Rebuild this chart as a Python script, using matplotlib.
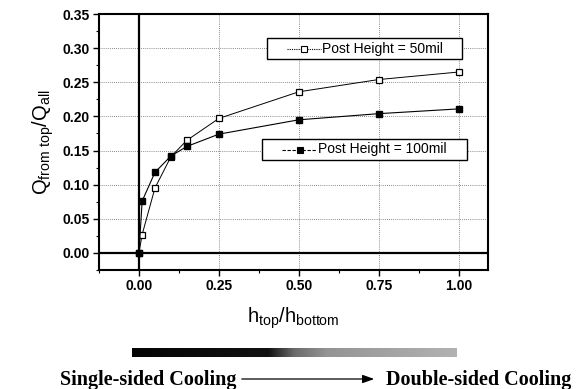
import numpy as np
import matplotlib
matplotlib.use("Agg")
import matplotlib.pyplot as plt
from matplotlib.lines import Line2D
from matplotlib.patches import Rectangle, FancyArrowPatch
from matplotlib.colors import LinearSegmentedColormap

plt.rcParams['font.family'] = ['Liberation Sans', 'DejaVu Sans']
plt.rcParams['mathtext.default'] = 'regular'

# Data
h_ratio = [0.0, 0.01, 0.05, 0.10, 0.15, 0.25, 0.50, 0.75, 1.00]
q_50mil = [0.0, 0.027, 0.095, 0.141, 0.165, 0.197, 0.236, 0.254, 0.265]
q_100mil = [0.0, 0.076, 0.118, 0.142, 0.156, 0.174, 0.195, 0.204, 0.211]
label_50 = "Post Height = 50mil"
label_100 = "Post Height = 100mil"
xticks = [0.00, 0.25, 0.50, 0.75, 1.00]
yticks = [0.00, 0.05, 0.10, 0.15, 0.20, 0.25, 0.30, 0.35]

W, H = 580, 389
AX_L, AX_R, AX_T, AX_B = 99, 488, 14, 270
fig = plt.figure(figsize=(W / 100, H / 100), dpi=100)
ax = fig.add_axes([AX_L / W, 1 - AX_B / H, (AX_R - AX_L) / W, (AX_B - AX_T) / H])


def fx(px):
    return (px - AX_L) / (AX_R - AX_L)


def fy(py):
    return (AX_B - py) / (AX_B - AX_T)


ax.set_xlim(-0.101, 1.092)
ax.set_ylim(-0.025, 0.35)

ax.axvline(0, color='black', lw=1.6, zorder=2)
ax.axhline(0, color='black', lw=1.6, zorder=2)

ax.plot(h_ratio, q_50mil, color='black', lw=0.7, marker='s', ms=4.5,
        mfc='white', mec='black', mew=0.9, zorder=4)
ax.plot(h_ratio, q_100mil, color='black', lw=0.8, marker='s', ms=4.5,
        mfc='black', mec='black', zorder=4)

ax.set_xticks(xticks)
ax.set_xticklabels([f"{v:.2f}" for v in xticks])
ax.set_yticks(yticks)
ax.set_yticklabels([f"{v:.2f}" for v in yticks])
ax.set_xticks(np.arange(-0.125, 1.1, 0.125), minor=True)
ax.set_yticks(np.arange(-0.025, 0.351, 0.025), minor=True)

ax.grid(True, which='major', color='black', lw=0.6, ls=(0, (1, 1.5)), alpha=0.6)
ax.tick_params(which='major', direction='out', length=4, width=1.0, labelsize=10, pad=2.5)
ax.tick_params(which='minor', direction='out', length=2, width=0.8)
for lab in ax.get_xticklabels() + ax.get_yticklabels():
    lab.set_fontweight('bold')
for s in ax.spines.values():
    s.set_linewidth(1.5)

ax.set_ylabel(r'Q$_{from\ top}$/Q$_{all}$', fontsize=14.5, labelpad=5)
ax.set_xlabel(r'h$_{top}$/h$_{bottom}$', fontsize=14.5, labelpad=9)


# Manual legend boxes
def legend_box(x0, x1, y0, y1, hx0, hx1, label, face, ls):
    ax.add_patch(Rectangle((fx(x0), fy(y1)), fx(x1) - fx(x0), fy(y0) - fy(y1),
                           transform=ax.transAxes, facecolor='white',
                           edgecolor='black', lw=1.0, zorder=5))
    yc = fy((y0 + y1) / 2)
    ax.add_line(Line2D([fx(hx0), fx(hx1)], [yc, yc], transform=ax.transAxes,
                       color='black', lw=0.8, ls=ls, zorder=6))
    ax.add_line(Line2D([fx((hx0 + hx1) / 2)], [yc], transform=ax.transAxes,
                       marker='s', ms=4, mfc=face, mec='black', mew=0.8,
                       ls='none', zorder=7))
    ax.text(fx(hx1 + 1), yc, label, transform=ax.transAxes, ha='left',
            va='center', fontsize=10, zorder=7)


legend_box(267, 462, 38, 59, 287, 321, label_50, 'white', (0, (1, 1)))
legend_box(262, 467, 139, 160, 282, 317, label_100, 'black', (0, (3, 1.5)))

# Gradient bar
bax = fig.add_axes([132 / W, 1 - 357 / H, 325 / W, 9 / H])
cmap = LinearSegmentedColormap.from_list(
    'bar', [(0.0, (0.02, 0.02, 0.02)), (0.42, (0.07, 0.07, 0.07)),
            (0.50, (0.42, 0.42, 0.42)), (0.60, (0.58, 0.58, 0.58)),
            (1.0, (0.70, 0.70, 0.70))])
bax.imshow(np.linspace(0, 1, 256)[None, :], aspect='auto', cmap=cmap,
           extent=(0, 1, 0, 1))
bax.set_axis_off()

# Bottom annotation
fig.text(236 / W, 1 - 380 / H, "Single-sided Cooling", ha='right', va='center',
         family='Liberation Serif', fontweight='bold', fontsize=14.5)
fig.text(386 / W, 1 - 380 / H, "Double-sided Cooling", ha='left', va='center',
         family='Liberation Serif', fontweight='bold', fontsize=14.5)
fig.patches.append(FancyArrowPatch(
    (239 / W, 1 - 379 / H), (377 / W, 1 - 379 / H), transform=fig.transFigure,
    arrowstyle='-|>,head_length=7,head_width=2.5', color='black', lw=0.9,
    mutation_scale=1))

fig.savefig('out.png', dpi=100)
